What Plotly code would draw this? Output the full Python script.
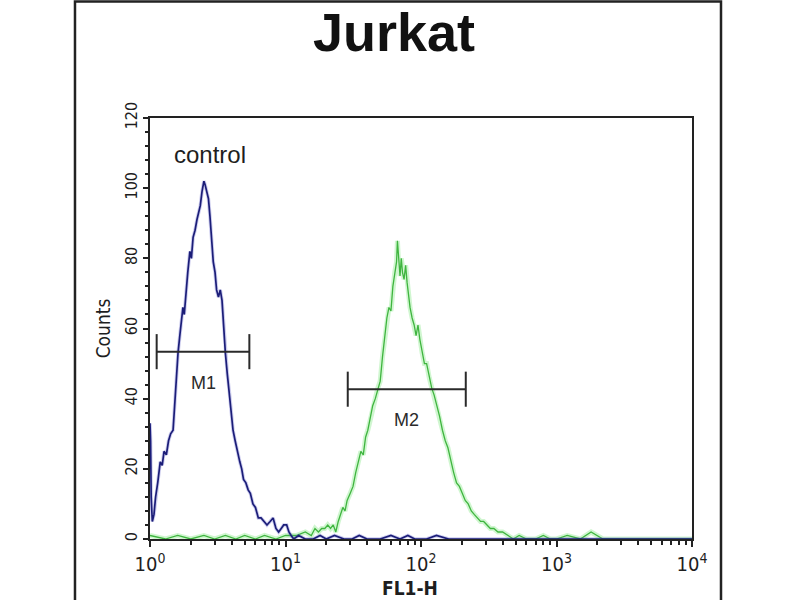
import math
import plotly.graph_objects as go

# ---- data ----
control_x = [1.00, 1.01, 1.02, 1.04, 1.07, 1.10, 1.14, 1.19, 1.23, 1.27, 1.32, 1.37, 1.42, 1.48,
             1.52, 1.56, 1.61, 1.66, 1.70, 1.75, 1.79, 1.84, 1.90, 1.97, 2.02, 2.08, 2.15, 2.22,
             2.28, 2.35, 2.42, 2.50, 2.55, 2.62, 2.70, 2.77, 2.85, 2.93, 3.02, 3.10, 3.20, 3.30,
             3.40, 3.50, 3.60, 3.72, 3.85, 3.98, 4.10, 4.25, 4.40, 4.60, 4.75, 4.90, 5.10, 5.30,
             5.50, 5.75, 6.00, 6.30, 6.60, 6.90, 7.30, 7.70, 8.10, 8.50, 8.90, 9.30, 9.70, 10.2,
             10.6, 11.0, 11.5, 12.5, 14, 16, 18, 20, 23, 27, 31, 35, 40, 50, 60, 70, 80, 90, 110,
             130, 160, 200, 300, 500, 800, 1500, 3000, 6000, 10000]
control_y = [33, 28, 12, 5, 7, 12, 16, 22, 21, 25, 24, 28, 30, 31,
             38, 46, 53, 58, 62, 66, 64, 71, 76, 82, 80, 86, 88, 91,
             93, 95, 99, 102, 101, 99, 97, 92, 84, 79, 76, 71, 69, 71,
             68, 60, 53, 47, 42, 36, 31, 28, 25, 22, 20, 17, 16, 14,
             13, 10, 9, 6, 6, 5, 4, 5, 6, 3, 2, 3, 4, 4,
             2, 1, 0, 1, 0, 0, 1, 0, 1, 0, 0, 1, 0, 0, 1, 0, 1, 0, 0,
             1, 0, 0, 0, 0, 0, 0, 0, 0, 0]

sample_x = [1.0, 1.3, 1.6, 2.0, 2.5, 3.0, 3.6, 4.3, 5.0, 6.0, 7.0, 8.5, 10, 12, 14, 15.5, 16.5,
            17.5, 18.5, 19.5, 20.5, 21.5, 22.5, 23.5, 24.5, 25.5, 26.5, 27.5, 28.5, 30, 31.5,
            33, 34.5, 36, 37.5, 39, 40.5, 42, 44, 46, 48, 50, 52, 54, 56, 58, 60, 62, 64, 66,
            67, 68.5, 70, 71.5, 73, 75, 77, 79, 81, 83, 86, 89, 92, 95, 98, 102, 106, 110, 115,
            120, 125, 131, 137, 144, 151, 158, 166, 174, 183, 192, 202, 212, 223, 235, 247, 260,
            275, 290, 305, 325, 345, 370, 400, 440, 480, 530, 600, 700, 800, 900, 1000, 1200,
            1500, 1800, 2000, 2200, 3000, 5000, 10000]
sample_y = [1, 0, 1, 0, 1, 0, 1, 0, 1, 0, 1, 0, 1, 1, 2, 1, 3,
            2, 3, 3, 4, 3, 4, 2, 5, 7, 9, 8, 11, 13, 15,
            19, 22, 25, 24, 29, 31, 34, 38, 40, 43, 45, 52, 58, 63, 66, 65, 72, 76, 79,
            85, 78, 75, 80, 76, 74, 78, 73, 69, 66, 63, 61, 58, 61, 57, 53, 50, 50, 46,
            43, 41, 38, 35, 31, 28, 26, 22, 19, 16, 15, 13, 11, 10, 8, 7, 6,
            5, 5, 4, 3, 3, 2, 2, 1, 0, 1, 0, 0, 1, 0, 0, 1,
            0, 2, 1, 0, 0, 0, 0]

marker_names = ["M1", "M2"]
marker_lo = [1.12, 28.8]
marker_hi = [5.41, 214]
marker_level = [53.4, 42.7]

title_text = "Jurkat"
x_title = "FL1-H"
y_title = "Counts"
x_tickvals = [1, 10, 100, 1000, 10000]
x_ticktext = ["10<sup>0</sup>", "10<sup>1</sup>", "10<sup>2</sup>", "10<sup>3</sup>", "10<sup>4</sup>"]
y_tickvals = [0, 20, 40, 60, 80, 100, 120]

FONT = "Liberation Sans, Arial, sans-serif"
NARROW = "Liberation Sans Narrow, Arial Narrow, DejaVu Sans Condensed, Liberation Sans, sans-serif"
INK = "#1e1e1e"

fig = go.Figure()

# green sample with halo
fig.add_trace(go.Scatter(x=sample_x, y=sample_y, mode="lines",
                         line=dict(color="rgba(120,230,120,0.35)", width=5),
                         hoverinfo="skip", showlegend=False))
fig.add_trace(go.Scatter(x=sample_x, y=sample_y, mode="lines",
                         line=dict(color="#3fb53f", width=1.3), showlegend=False))
# blue control
fig.add_trace(go.Scatter(x=control_x, y=control_y, mode="lines",
                         line=dict(color="rgba(90,90,200,0.3)", width=3.5),
                         hoverinfo="skip", showlegend=False))
fig.add_trace(go.Scatter(x=control_x, y=control_y, mode="lines",
                         line=dict(color="#1b1d78", width=1.7), showlegend=False))

# markers M1, M2
for name, lo, hi, lev in zip(marker_names, marker_lo, marker_hi, marker_level):
    fig.add_trace(go.Scatter(x=[lo, hi], y=[lev, lev], mode="lines",
                             line=dict(color="#2a2a2a", width=2), showlegend=False))
    for xv in (lo, hi):
        fig.add_trace(go.Scatter(x=[xv, xv], y=[lev - 5, lev + 5], mode="lines",
                                 line=dict(color="#2a2a2a", width=2), showlegend=False))
    gm = (lo * hi) ** 0.5
    fig.add_annotation(x=math.log10(gm), y=lev - 8.8, text=name, showarrow=False,
                       font=dict(family=FONT, size=18, color="#2a2a2a"))

fig.add_annotation(x=0.443, y=109.7, text="control", showarrow=False,
                   font=dict(family=FONT, size=24, color=INK))

# title
fig.add_annotation(xref="paper", yref="paper", x=0.45, y=1.204, yanchor="middle",
                   text="<b>" + title_text + "</b>",
                   showarrow=False, font=dict(family=FONT, size=54, color="#111"))
# x axis title (at the bottom edge, as in the reference)
fig.add_annotation(xref="paper", yref="paper", x=0.48, y=-0.085, yanchor="top",
                   text="<b>" + x_title + "</b>", showarrow=False,
                   font=dict(family=NARROW, size=19, color=INK))

# outer frame
fig.add_shape(type="rect", xref="paper", yref="paper", x0=-0.1384, x1=1.0535, y0=-0.15, y1=1.277,
              line=dict(color="#222", width=2.5), fillcolor="rgba(0,0,0,0)")

fig.update_layout(
    width=800, height=600,
    margin=dict(l=150, r=108, t=118, b=61, autoexpand=False),
    paper_bgcolor="white", plot_bgcolor="white",
    showlegend=False,
    font=dict(family=FONT, color=INK),
)
fig.update_xaxes(type="log", range=[0, 4], tickvals=x_tickvals, ticktext=x_ticktext,
                 ticks="outside", ticklen=6, tickwidth=2, tickcolor="#222",
                 showline=True, linecolor="#222", linewidth=2, mirror=True,
                 showgrid=False, zeroline=False,
                 tickfont=dict(family=NARROW, size=20, color=INK),
                 minor=dict(tickvals=[2, 3, 4, 5, 6, 7, 8, 9, 20, 30, 40, 50, 60, 70, 80, 90,
                                      200, 300, 400, 500, 600, 700, 800, 900,
                                      2000, 3000, 4000, 5000, 6000, 7000, 8000, 9000],
                            ticks="outside", ticklen=4, tickwidth=2, tickcolor="#222", showgrid=False))
fig.update_yaxes(range=[0, 120], tickvals=y_tickvals, tickangle=-90,
                 ticks="outside", ticklen=5, tickwidth=2, tickcolor="#222",
                 showline=True, linecolor="#222", linewidth=2, mirror=True,
                 showgrid=False, zeroline=False,
                 tickfont=dict(family=NARROW, size=16, color=INK),
                 minor=dict(dtick=4, ticks="outside", ticklen=3, tickwidth=2, tickcolor="#222", showgrid=False),
                 title=dict(text=y_title, standoff=6, font=dict(family=NARROW, size=19, color=INK)))

# remove the browser's default 8px body margin so the figure fills the window exactly
fig.write_html("out.html", config={"displayModeBar": False},
               post_script="document.body.style.margin='0';document.body.style.overflow='hidden';")
